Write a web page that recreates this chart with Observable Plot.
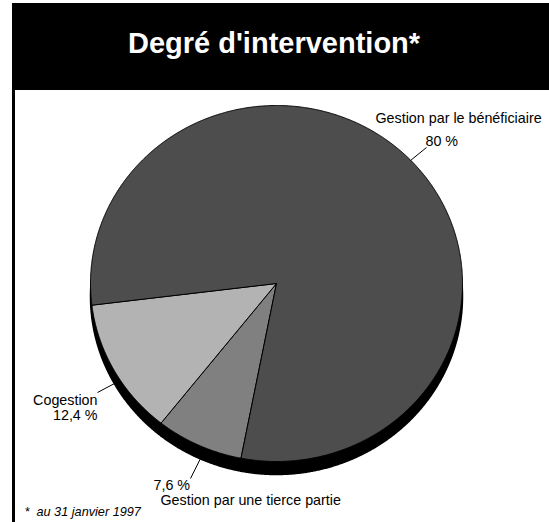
<!DOCTYPE html>
<html lang="fr">
<head>
<meta charset="utf-8">
<script src="https://cdn.jsdelivr.net/npm/d3@7"></script>
<script src="https://cdn.jsdelivr.net/npm/@observablehq/plot@0.6"></script>
<style>
html,body{margin:0;padding:0;background:#fff;width:549px;height:522px;overflow:hidden;font-family:"Liberation Sans",Arial,sans-serif}
#frame{position:absolute;left:12px;top:3px;width:537px;height:519px;box-sizing:border-box;border-left:3px solid #000}
#band{position:absolute;left:12px;top:3px;width:537px;height:87px;background:#000}
#title{position:absolute;left:128px;top:27px;margin:0;color:#fff;font:bold 29px "Liberation Sans",Arial,sans-serif;white-space:nowrap}
#chart{position:absolute;left:0;top:0}
</style>
</head>
<body>
<div id="frame"></div>
<div id="band"></div>
<h1 id="title">Degré d'intervention*</h1>
<div id="chart"></div>
<script>
const categories = ["Gestion par une tierce partie", "Cogestion", "Gestion par le bénéficiaire"];
const shares = [7.6, 12.4, 80];
const shades = ["#808080", "#b3b3b3", "#4d4d4d"];
const footnote = "*  au 31 janvier 1997";

// Layout (pixels on the page), kept apart from the values
const cx = 276, cy = 283, rx = 186, ry = 178, depth = 13, firstAngle = 191;
const ux = px => (px - cx) / rx;
const uy = py => (cy - py) / ry;

const labels = [
  {t: "Gestion par le bénéficiaire", x: 375, y: 118, a: "start"},
  {t: "80 %", x: 425, y: 141, a: "start"},
  {t: "Cogestion", x: 97, y: 400, a: "end"},
  {t: "12,4 %", x: 97, y: 415, a: "end"},
  {t: "7,6 %", x: 153, y: 485, a: "start"},
  {t: "Gestion par une tierce partie", x: 160, y: 500, a: "start"}
];
const leaders = [
  {x1: 410, y1: 160, x2: 426, y2: 147},
  {x1: 97, y1: 392, x2: 114, y2: 383},
  {x1: 190, y1: 478, x2: 200, y2: 458}
];

const start = firstAngle * Math.PI / 180;
const arcs = d3.pie().sort(null).startAngle(start).endAngle(start + 2 * Math.PI)(shares);
const slices = arcs.flatMap((a, i) => {
  const n = Math.ceil((a.endAngle - a.startAngle) / 0.005);
  const rim = d3.range(n + 1).map(k => {
    const th = a.startAngle + (a.endAngle - a.startAngle) * k / n;
    return {slice: categories[i], x: Math.sin(th), y: Math.cos(th)};
  });
  const hub = {slice: categories[i], x: 0, y: 0};
  return [hub, ...rim, hub];
});

const textMark = (rows, a) => Plot.text(rows, {
  x: d => ux(d.x), y: d => uy(d.y), text: "t", textAnchor: a,
  fontSize: 14.3, fill: "#000", lineAnchor: "middle"
});

const plot = Plot.plot({
  width: 549, height: 522,
  margin: 0,
  style: {background: "transparent", fontFamily: '"Liberation Sans", Arial, sans-serif'},
  x: {domain: [-1, 1], range: [cx - rx, cx + rx], axis: null},
  y: {domain: [-1, 1], range: [cy + ry, cy - ry], axis: null},
  color: {domain: categories, range: shades},
  marks: [
    Plot.line(slices, {x: "x", y: "y", z: "slice", fill: "#000", stroke: "#000", dy: depth, curve: "linear"}),
    Plot.line(slices, {x: "x", y: "y", z: "slice", fill: "slice", stroke: "#000", strokeWidth: 1, strokeLinejoin: "round", curve: "linear"}),
    Plot.link(leaders, {x1: d => ux(d.x1), y1: d => uy(d.y1), x2: d => ux(d.x2), y2: d => uy(d.y2), stroke: "#000", strokeWidth: 1}),
    textMark(labels.filter(d => d.a === "start"), "start"),
    textMark(labels.filter(d => d.a === "end"), "end"),
    Plot.text([footnote], {x: () => ux(24), y: () => uy(511), text: d => d, textAnchor: "start", fontSize: 12.7, fontStyle: "italic", fill: "#000", lineAnchor: "middle"})
  ]
});
document.getElementById("chart").appendChild(plot);
</script>
</body>
</html>
